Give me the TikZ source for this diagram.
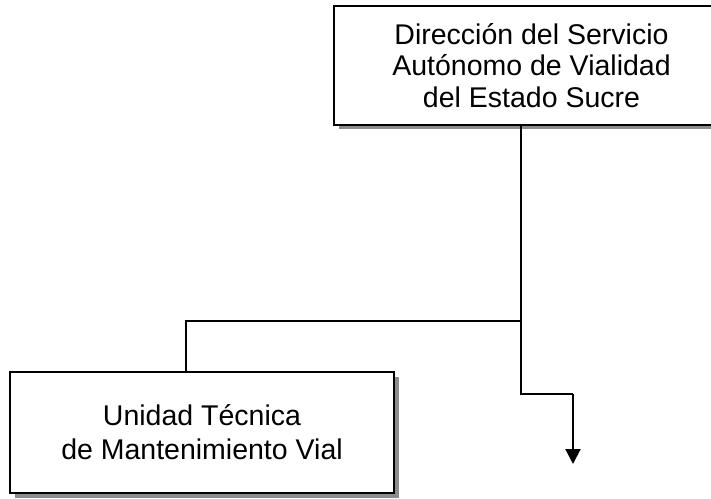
\documentclass[tikz,border=0pt]{standalone}
\usepackage{fontspec}
\newfontfamily\lab{Liberation Sans}
\usetikzlibrary{shadows,arrows.meta}
\begin{document}
\begin{tikzpicture}[x=1pt,y=1pt,
  orgbox/.style={draw=black, line width=2pt, fill=white, outer sep=0pt, inner sep=0pt,
    align=center, font=\lab\fontsize{28.5}{31.5}\selectfont,
    drop shadow={shadow xshift=4.5pt, shadow yshift=-4.5pt, fill=black!45, opacity=1}},
  conn/.style={draw=black, line width=2pt}]
\useasboundingbox (0,0) rectangle (711,498);
\clip (0,0) rectangle (711,498);
\node[orgbox, minimum width=395pt, minimum height=119pt] (top) at (531.5,432.5)
  {Dirección del Servicio\\Autónomo de Vialidad\\del Estado Sucre};
\node[orgbox, minimum width=384pt, minimum height=121pt, font=\lab\fontsize{28.5}{34}\selectfont] (unit) at (202,65.5)
  {Unidad Técnica\\de Mantenimiento Vial};
\coordinate (j1) at (521,177);
\coordinate (j2) at (186,177);
\coordinate (b1) at (521,104);
\coordinate (b2) at (573,104);
\coordinate (tip) at (573,34);
\draw[conn] (top.south -| j1) -- (j1) -- (b1) -- (b2);
\draw[conn, -{Triangle[length=15pt,width=15pt]}] (b2) -- (tip);
\draw[conn] (j1) -- (j2) -- (j2 |- unit.north);
\end{tikzpicture}
\end{document}
